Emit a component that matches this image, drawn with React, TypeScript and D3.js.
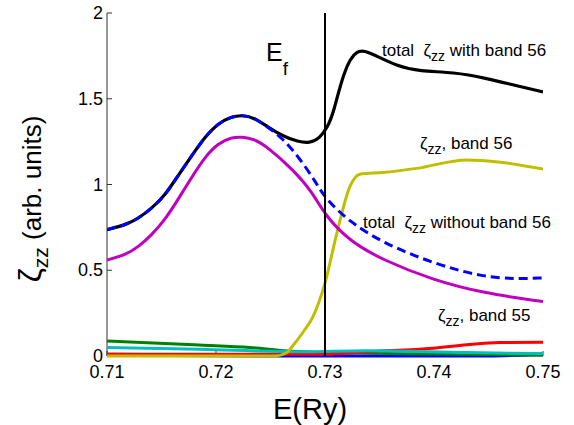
import React from "react";
import * as d3 from "d3";

// Energy grid (Ry) and response for each curve
const totalWithX = [0.71, 0.7117, 0.7129, 0.7141, 0.7153, 0.7165, 0.7178, 0.719, 0.7202, 0.7214, 0.7224, 0.7235, 0.7247, 0.7262, 0.7275, 0.7286, 0.7295, 0.7302, 0.7308, 0.7317, 0.7329, 0.7344, 0.7366, 0.7387, 0.7418, 0.7448, 0.7473, 0.75];
const totalWithY = [0.737, 0.764, 0.803, 0.861, 0.935, 1.05, 1.17, 1.279, 1.357, 1.395, 1.405, 1.39, 1.337, 1.28, 1.25, 1.24, 1.27, 1.33, 1.42, 1.66, 1.8, 1.76, 1.69, 1.66, 1.655, 1.62, 1.58, 1.54];

const totalWithoutX = [0.71, 0.7117, 0.7129, 0.7141, 0.7153, 0.7165, 0.7178, 0.719, 0.7202, 0.7214, 0.7224, 0.7235, 0.7247, 0.7262, 0.7277, 0.7292, 0.73, 0.7323, 0.7353, 0.7399, 0.7445, 0.7475, 0.75];
const totalWithoutY = [0.737, 0.764, 0.803, 0.861, 0.935, 1.05, 1.17, 1.279, 1.357, 1.395, 1.405, 1.39, 1.337, 1.265, 1.15, 1.01, 0.92, 0.78, 0.66, 0.54, 0.46, 0.45, 0.455];

const band55X = [0.71, 0.7117, 0.7129, 0.7141, 0.7153, 0.7165, 0.7178, 0.719, 0.7202, 0.7214, 0.7224, 0.7235, 0.7247, 0.7271, 0.7289, 0.73, 0.7323, 0.7353, 0.7399, 0.7445, 0.75];
const band55Y = [0.56, 0.589, 0.637, 0.706, 0.793, 0.91, 1.046, 1.162, 1.24, 1.275, 1.278, 1.265, 1.22, 1.085, 0.95, 0.82, 0.667, 0.56, 0.443, 0.367, 0.317];

const band56X = [0.71, 0.7255, 0.7265, 0.7271, 0.728, 0.7289, 0.73, 0.7311, 0.7323, 0.7332, 0.7353, 0.7384, 0.743, 0.7461, 0.75];
const band56Y = [0, 0, 0.02, 0.064, 0.14, 0.23, 0.425, 0.72, 0.99, 1.06, 1.07, 1.094, 1.143, 1.13, 1.09];

const greenX = [0.71, 0.7185, 0.7231, 0.7262, 0.7302, 0.74, 0.75];
const greenY = [0.087, 0.064, 0.05, 0.031, 0.02, 0.012, 0.006];

const cyanX = [0.71, 0.7185, 0.7277, 0.7339, 0.743, 0.75];
const cyanY = [0.05, 0.039, 0.025, 0.031, 0.02, 0.014];

const redX = [0.71, 0.72, 0.73, 0.7339, 0.7399, 0.743, 0.746, 0.75];
const redY = [0.012, 0.01, 0.01, 0.025, 0.045, 0.065, 0.078, 0.08];

const blueX = [0.71, 0.72, 0.725, 0.745, 0.75];
const blueY = [0.005, 0.002, 0, 0, 0.012];

const xTicks = [0.71, 0.72, 0.73, 0.74, 0.75];
const xTickLabels = ["0.71", "0.72", "0.73", "0.74", "0.75"];
const yTicks = [0, 0.5, 1, 1.5, 2];
const yTickLabels = ["0", "0.5", "1", "1.5", "2"];
const fermiEnergy = 0.73;

const FONT = "'Liberation Sans', Arial, Helvetica, sans-serif";

export default function App() {
  const left = 107, right = 543, top = 13, bottom = 356;
  const x = d3.scaleLinear().domain([0.71, 0.75]).range([left, right]);
  const y = d3.scaleLinear().domain([0, 2]).range([bottom, top]);

  const line = (xs: number[], ys: number[], curve: d3.CurveFactory = d3.curveBasis) =>
    d3.line<number>()
      .x((_, i) => x(xs[i]))
      .y((d) => y(d))
      .curve(curve)(ys) || "";

  const thin = [
    { xs: blueX, ys: blueY, c: "#0000ff" },
    { xs: greenX, ys: greenY, c: "#008000" },
    { xs: redX, ys: redY, c: "#ff0000" },
    { xs: cyanX, ys: cyanY, c: "#00bfbf" },
  ];

  return (
    <svg width={574} height={425} style={{ display: "block", position: "absolute", left: 0, top: 0 }} fontFamily={FONT}>
      <rect width={574} height={425} fill="#fff" />
      <defs>
        <clipPath id="plot">
          <rect x={left} y={top - 5} width={right - left} height={bottom - top + 8} />
        </clipPath>
      </defs>

      {/* axes */}
      <line x1={left} x2={left} y1={top} y2={bottom} stroke="#333" strokeWidth={1} />
      <line x1={left} x2={right} y1={bottom} y2={bottom} stroke="#333" strokeWidth={1} />
      {yTicks.map((t, i) => (
        <g key={"y" + i}>
          <line x1={left} x2={left + 5} y1={y(t)} y2={y(t)} stroke="#333" />
          <text x={left - 4} y={y(t) + 6} textAnchor="end" fontSize={18}>{yTickLabels[i]}</text>
        </g>
      ))}
      {xTicks.map((t, i) => (
        <g key={"x" + i}>
          <line x1={x(t)} x2={x(t)} y1={bottom} y2={bottom - 5} stroke="#333" />
          <text x={x(t)} y={378} textAnchor="middle" fontSize={18}>{xTickLabels[i]}</text>
        </g>
      ))}

      <g clipPath="url(#plot)" fill="none" strokeLinejoin="round" strokeLinecap="butt">
        {thin.map((s, i) => (
          <path key={i} d={line(s.xs, s.ys, d3.curveMonotoneX)} stroke={s.c} strokeWidth={3} />
        ))}
        <path d={line(band56X, band56Y, d3.curveMonotoneX)} stroke="#bfbf00" strokeWidth={3} />
        <path d={line(band55X, band55Y)} stroke="#bf00bf" strokeWidth={3} />
        <path d={line(totalWithX, totalWithY)} stroke="#000" strokeWidth={3.2} />
        <path d={line(totalWithoutX, totalWithoutY)} stroke="#0000ff" strokeWidth={3} strokeDasharray="9,5" />
      </g>

      {/* Fermi level */}
      <line x1={x(fermiEnergy)} x2={x(fermiEnergy)} y1={top} y2={bottom} stroke="#000" strokeWidth={2} />
      <text x={266} y={61} fontSize={25}>E<tspan fontSize={19} dy={14}>f</tspan></text>

      {/* annotations */}
      <text x={382} y={56} fontSize={17} xmlSpace="preserve">
        total  ζ<tspan fontSize={14} dy={5}>zz</tspan><tspan dy={-5}> with band 56</tspan>
      </text>
      <text x={420} y={149} fontSize={17}>
        ζ<tspan fontSize={14} dy={5}>zz</tspan><tspan dy={-5}>, band 56</tspan>
      </text>
      <text x={363} y={228} fontSize={17} xmlSpace="preserve">
        total  ζ<tspan fontSize={14} dy={5}>zz</tspan><tspan dy={-5}> without band 56</tspan>
      </text>
      <text x={438} y={321} fontSize={17}>
        ζ<tspan fontSize={14} dy={5}>zz</tspan><tspan dy={-5}>, band 55</tspan>
      </text>

      {/* axis titles */}
      <text x={310} y={419} textAnchor="middle" fontSize={29}>E(Ry)</text>
      <text transform="translate(41,199) rotate(-90)" textAnchor="middle" fontSize={26}>
        <tspan fontSize={32}>ζ</tspan><tspan fontSize={21} dy={7}>zz</tspan><tspan dy={-7}> (arb. units)</tspan>
      </text>
    </svg>
  );
}
